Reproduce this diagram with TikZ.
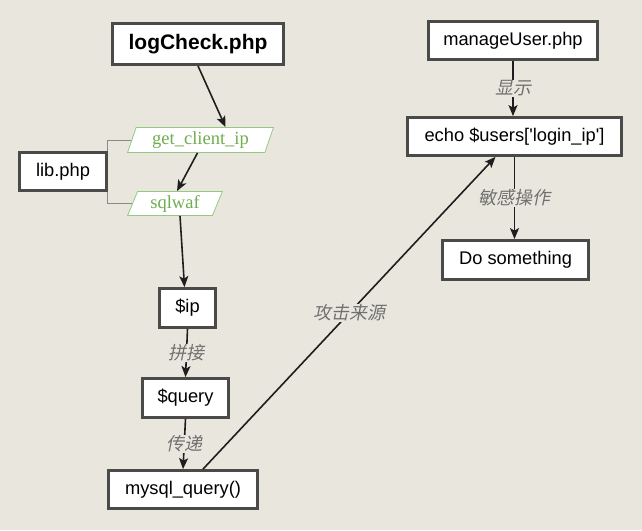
\documentclass[tikz,border=0pt]{standalone}
\usepackage{fontspec}
\setmainfont{Liberation Sans}
\newfontfamily\rawsans[Ligatures=TeXOff]{Liberation Sans}
\newfontfamily\cjk[FakeSlant=0.2]{Noto Sans CJK SC}
\newfontfamily\greenserif{Liberation Serif}
\usetikzlibrary{shapes.geometric,calc,arrows.meta}
\definecolor{bg}{HTML}{E9E7DD}
\definecolor{boxgray}{HTML}{4A4A48}
\definecolor{paragreen}{HTML}{93C982}
\definecolor{textgreen}{HTML}{6FAE4F}
\definecolor{lblgray}{HTML}{707070}
\definecolor{arrowblack}{HTML}{1E1E1E}
\definecolor{bracketgray}{HTML}{8A8A86}
\tikzset{
  box/.style={draw=boxgray, line width=2.8pt, fill=white, inner sep=0pt,
    font=\fontsize{18.3}{20}\selectfont, text=black},
  para/.style={trapezium, trapezium left angle=69, trapezium right angle=111,
    trapezium stretches=true, draw=paragreen, line width=0.8pt, fill=white,
    text=textgreen, font=\greenserif\fontsize{18.5}{20}\selectfont, inner sep=0pt},
  lbl/.style={fill=bg, text=lblgray, font=\cjk\fontsize{18}{20}\selectfont, inner sep=1pt},
  arr/.style={-{Stealth[length=11pt,width=9pt,inset=2.5pt]}, line width=1.6pt, draw=arrowblack},
  bracket/.style={draw=bracketgray, line width=1pt}
}
\begin{document}
\begin{tikzpicture}[x=1pt,y=-1pt]
\fill[bg] (0,0) rectangle (642,530);
\useasboundingbox (0,0) rectangle (642,530);

\node[box, minimum width=171pt, minimum height=41pt, font=\bfseries\fontsize{21}{23}\selectfont] (log) at (198,44) {logCheck.php};
\node[para, minimum width=146pt, minimum height=25pt] (gci) at (200.5,140) {get\_client\_ip};
\node[para, minimum width=95pt, minimum height=24pt] (waf) at (175,203.5) {sqlwaf};
\node[box, minimum width=87pt, minimum height=38pt] (lib) at (63,171.5) {lib.php};
\node[box, minimum width=56pt, minimum height=39pt] (ip) at (187.5,308) {\$ip};
\node[box, minimum width=86pt, minimum height=39pt] (query) at (185.5,398) {\$query};
\node[box, minimum width=149pt, minimum height=38pt] (mysql) at (183,489.5) {mysql\_query()};
\node[box, minimum width=169pt, minimum height=38pt] (manage) at (513,40.5) {manageUser.php};
\node[box, minimum width=214pt, minimum height=38pt, font=\rawsans\fontsize{18.3}{20}\selectfont] (echo) at (514.5,136.5) {echo \$users['login\_ip']};
\node[box, minimum width=146pt, minimum height=39pt] (do) at (515.5,260) {Do something};

\draw[bracket] (gci.west) -| (lib.north east);
\draw[bracket] (waf.west) -| (lib.south east);

\draw[arr] (log.south) -- ($(gci.north)+(25,0)$);
\draw[arr] ($(gci.south)+(-3,0)$) -- ($(waf.north)+(2,0)$);
\draw[arr] ($(waf.south)+(5,0)$) -- ($(ip.north)+(-3,0)$);
\draw[arr] (ip.south) -- node[lbl] {拼接} (query.north);
\draw[arr] (query.south) -- node[lbl] {传递} (mysql.north);
\draw[arr] ($(mysql.north)+(20,0)$) -- node[lbl, pos=0.5] {攻击来源} ($(echo.south)+(-19,0)$);
\draw[arr] (manage.south) -- node[lbl] {显示} (echo.north -| manage.south);
\draw[arr] (echo.south) -- node[lbl, pos=0.5] {敏感操作} (do.north -| echo.south);
\end{tikzpicture}
\end{document}
